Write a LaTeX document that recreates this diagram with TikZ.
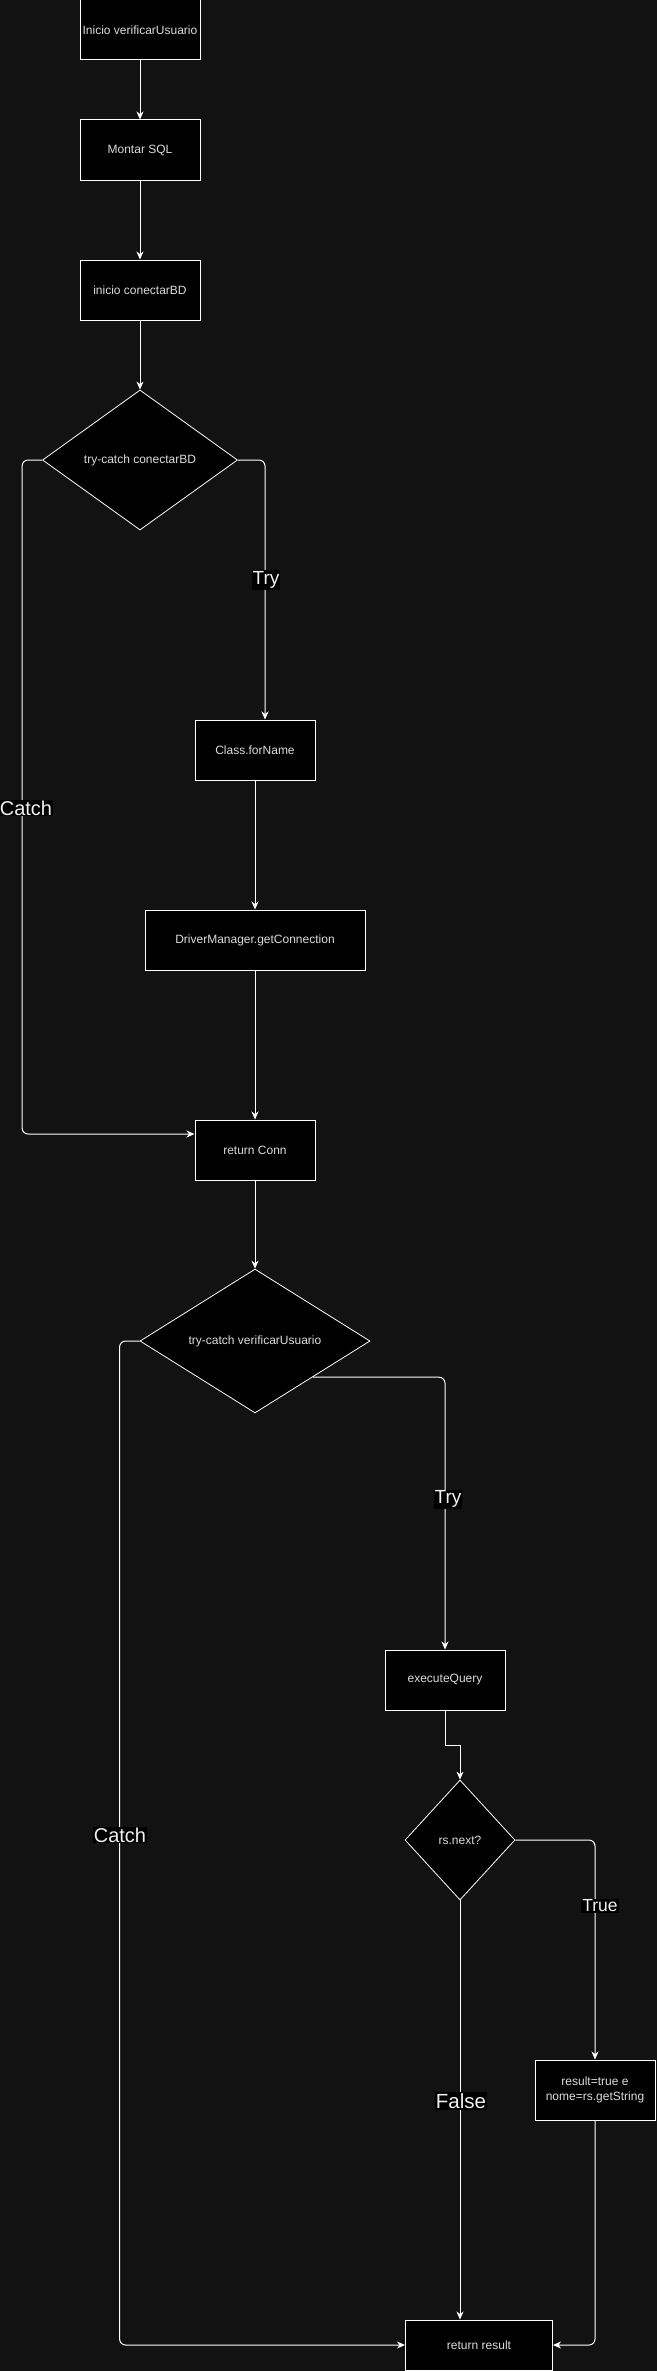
\documentclass[tikz,border=0pt]{standalone}
\usepackage{fontspec}
\setmainfont{Liberation Sans}
\usetikzlibrary{shapes.geometric,arrows.meta}
\definecolor{bg}{HTML}{121212}
\definecolor{txt}{HTML}{DCDCDC}
\definecolor{lbl}{HTML}{F0F0F0}
\begin{document}
\begin{tikzpicture}[x=1pt,y=-1pt,
  box/.style={draw=white, fill=black, line width=1pt, minimum width=120pt, minimum height=60pt, inner sep=0pt, text=txt, font=\fontsize{12}{15}\selectfont, align=center},
  dec/.style={diamond, draw=white, fill=black, line width=0.8pt, inner sep=0pt, text=txt, font=\fontsize{12}{15}\selectfont},
  conn/.style={draw=white, line width=1pt, -{Stealth[length=8pt,width=7pt,inset=2.5pt]}, rounded corners=6pt},
  lab/.style={fill=black, text=lbl, inner sep=1pt}
]
\useasboundingbox (0,0) rectangle (656,2371);
\fill[bg] (-5,-5) rectangle (661,2376);

\node[box] (b1) at (140,30) {Inicio verificarUsuario};
\node[box] (b2) at (140,150) {Montar SQL};
\node[box] (b3) at (140,290) {inicio conectarBD};
\node[dec, minimum width=195pt, minimum height=140pt] (d1) at (140,460) {try-catch conectarBD};
\node[box] (cf) at (255,750) {Class.forName};
\node[box, minimum width=220pt] (dm) at (255,940) {DriverManager.getConnection};
\node[box] (rc) at (255,1150) {return Conn};
\node[dec, minimum width=230pt, minimum height=140pt] (d2) at (255,1341) {try-catch verificarUsuario};
\node[box] (eq) at (445,1680) {executeQuery};
\node[dec, minimum width=110pt, minimum height=120pt] (d3) at (460,1840) {rs.next?};
\node[box] (rs) at (595,2090) {result=true e\\nome=rs.getString};
\node[box, minimum width=147pt, minimum height=50pt] (rr) at (479,2345) {return result};

\draw[conn] (b1) -- (b2);
\draw[conn] (b2) -- (b3);
\draw[conn] (b3) -- (d1);
\draw[conn] (d1.east) -| ([xshift=10pt]cf.north);
\draw[conn] (d1.west) -- ++(-20,0) |- ([yshift=16pt]rc.west);
\draw[conn] (cf) -- (dm);
\draw[conn] (dm) -- (rc);
\draw[conn] (rc) -- (d2);
\draw[conn] (d2.south east) -| (eq.north);
\draw[conn] (d2.west) -- ++(-20,0) |- (rr.west);
\draw[conn, rounded corners=0pt] (eq.south) -- ++(0,35) -| (d3.north);
\draw[conn] (d3.east) -| (rs.north);
\draw[conn] (rs.south) |- (rr.east);
\draw[conn] (d3.south) -- (d3.south |- rr.north);

\node[lab, font=\fontsize{20}{24}\selectfont] (lc1) at (26,808) {Catch};
\node[lab, font=\fontsize{19}{23}\selectfont] (lt1) at (266,580) {Try};
\node[lab, font=\fontsize{19}{23}\selectfont] (lt2) at (448,1499) {Try};
\node[lab, font=\fontsize{20}{24}\selectfont] (lc2) at (120,1835) {Catch};
\node[lab, font=\fontsize{17.5}{21}\selectfont] (ltr) at (600,1906) {True};
\node[lab, font=\fontsize{20.5}{24}\selectfont] (lf) at (461,2101) {False};
\end{tikzpicture}
\end{document}
